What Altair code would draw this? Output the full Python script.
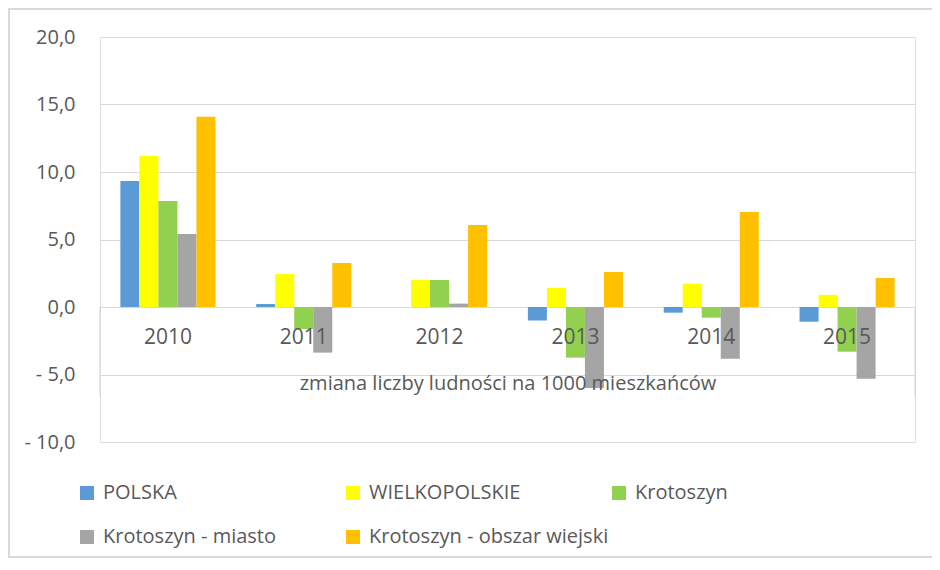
import altair as alt
import pandas as pd

# ---- data ----
years = ["2010", "2011", "2012", "2013", "2014", "2015"]
series = ["POLSKA", "WIELKOPOLSKIE", "Krotoszyn", "Krotoszyn - miasto", "Krotoszyn - obszar wiejski"]
colors = ["#5B9BD5", "#FFFF00", "#92D050", "#A5A5A5", "#FFC000"]

polska = [9.33, 0.22, 0.0, -1.0, -0.42, -1.09]
wielkopolskie = [11.19, 2.44, 2.0, 1.41, 1.73, 0.9]
krotoszyn = [7.85, -1.63, 2.0, -3.75, -0.79, -3.31]
krotoszyn_miasto = [5.41, -3.38, 0.25, -6.0, -3.83, -5.31]
krotoszyn_wies = [14.1, 3.26, 6.07, 2.6, 7.04, 2.15]

y_ticks = [-10, -5, 0, 5, 10, 15, 20]
x_title = "zmiana liczby ludności na 1000 mieszkańców"

values = [polska, wielkopolskie, krotoszyn, krotoszyn_miasto, krotoszyn_wies]
df = pd.DataFrame(
    [{"year": y, "series": s, "value": v}
     for s, vals in zip(series, values) for y, v in zip(years, vals)]
)
labels_df = pd.DataFrame({"year": years})
one_df = pd.DataFrame({"k": [0]})

W, H = 815, 405
FONT = "Open Sans"
TXT = "#595959"
GRID = "#d9d9d9"

y_scale = alt.Scale(domain=[-10, 20], nice=False, zero=False)
x_scale = alt.Scale(paddingInner=0.3, paddingOuter=0.15)

bars = alt.Chart(df).mark_bar().encode(
    x=alt.X(
        "year:N", sort=years, scale=x_scale,
        axis=alt.Axis(
            labels=False, ticks=False, domain=False, grid=False,
            title=x_title, titleFontSize=20, titleFontWeight="normal",
            titleColor=TXT, titleFont=FONT, titleBaseline="middle",
            titleY=-59, zindex=1,
        ),
    ),
    xOffset=alt.XOffset("series:N", sort=series,
                        scale=alt.Scale(paddingInner=0, paddingOuter=0)),
    y=alt.Y(
        "value:Q", scale=y_scale,
        axis=alt.Axis(
            values=y_ticks,
            labelExpr="(datum.value < 0 ? '- ' : '') + replace(format(abs(datum.value), '.1f'), '.', ',')",
            grid=True, gridColor=GRID, gridWidth=1.2,
            domain=False, ticks=False, labelPadding=25,
            labelFontSize=20, labelColor=TXT, labelFont=FONT,
            title=None, zindex=0,
        ),
    ),
    color=alt.Color(
        "series:N", sort=series,
        scale=alt.Scale(domain=series, range=colors),
        legend=alt.Legend(
            title=None, orient="none", legendX=-23, legendY=446,
            direction="horizontal", columns=3, gridAlign="all",
            symbolType="square", symbolSize=196, symbolStrokeWidth=0,
            labelFontSize=20, labelColor=TXT, labelFont=FONT, labelLimit=400,
            labelOffset=6, columnPadding=0, rowPadding=24,
        ),
    ),
)

year_text = alt.Chart(labels_df).mark_text(
    fontSize=21, color=TXT, font=FONT, baseline="middle", dy=2
).encode(
    x=alt.X("year:N", sort=years),
    y=alt.datum(-2.15),
    text=alt.Text("year:N"),
)

left_edge = alt.Chart(one_df).mark_rule(color=GRID, strokeWidth=1.2).encode(
    x=alt.value(0), y=alt.datum(0), y2=alt.datum(-6.67)
)
right_edge = alt.Chart(one_df).mark_rule(color=GRID, strokeWidth=1.2).encode(
    x=alt.value(W), y=alt.datum(0), y2=alt.datum(-6.67)
)

# chart border on the left, top and bottom (the right side lies beyond the picture)
frame_left = alt.Chart(one_df).mark_rule(color=GRID, strokeWidth=2).encode(
    x=alt.value(-91), y=alt.value(-28), y2=alt.value(H + 115)
)
frame_top = alt.Chart(one_df).mark_rule(color=GRID, strokeWidth=2).encode(
    x=alt.value(-92), x2=alt.value(W + 17), y=alt.value(-28)
)
frame_bottom = alt.Chart(one_df).mark_rule(color=GRID, strokeWidth=2).encode(
    x=alt.value(-92), x2=alt.value(W + 17), y=alt.value(H + 115)
)

chart = alt.layer(
    bars, year_text, left_edge, right_edge, frame_left, frame_top, frame_bottom
).properties(
    width=W, height=H,
    padding={"left": 92, "top": 29, "right": 17, "bottom": 116},
    autosize=alt.AutoSizeParams(type="none"),
).configure_view(strokeWidth=0).configure(font=FONT)

chart.save("out.html", embed_options={"renderer": "svg", "actions": False})
